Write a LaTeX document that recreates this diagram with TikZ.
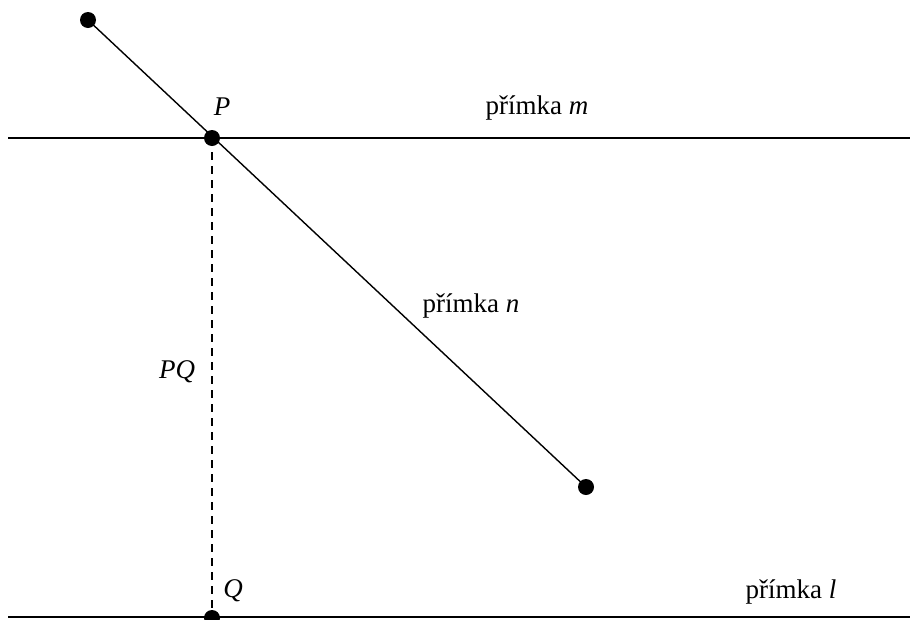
\documentclass[tikz,border=0pt]{standalone}
\usepackage{fontspec}
\setmainfont{Liberation Serif}
\begin{document}
\begin{tikzpicture}[x=1pt,y=-1pt,
  dot/.style={circle,fill=black,inner sep=0pt,minimum size=16pt},
  lbl/.style={font=\fontsize{27}{32}\selectfont},
  ln/.style={line width=1.4pt}]
\useasboundingbox (0,0) rectangle (910,619);
\node[dot] (A) at (88,20) {};
\node[dot] (P) at (212,138) {};
\node[dot] (B) at (586,487) {};
\node[dot] (Q) at (212,618) {};
\coordinate (m1) at (8,138);
\coordinate (m2) at (910,138);
\coordinate (l1) at (8,617);
\coordinate (l2) at (910,617);
\draw[ln] (m1) -- (m2);
\draw[ln] (l1) -- (l2);
\draw[ln] (A.center) -- (B.center);
\draw[ln,dash pattern=on 8pt off 6pt] (P.center) -- (Q.center);
\node[lbl] (Pl) at (222,107) {\itshape P};
\node[lbl] (Ql) at (233,591) {\itshape Q};
\node[lbl] (PQl) at (177,372) {\itshape PQ};
\node[lbl] (ml) at (537,108) {přímka \textit{m}};
\node[lbl] (nl) at (471,306) {přímka \textit{n}};
\node[lbl] (ll) at (791,592) {přímka \textit{l}};
\end{tikzpicture}
\end{document}
